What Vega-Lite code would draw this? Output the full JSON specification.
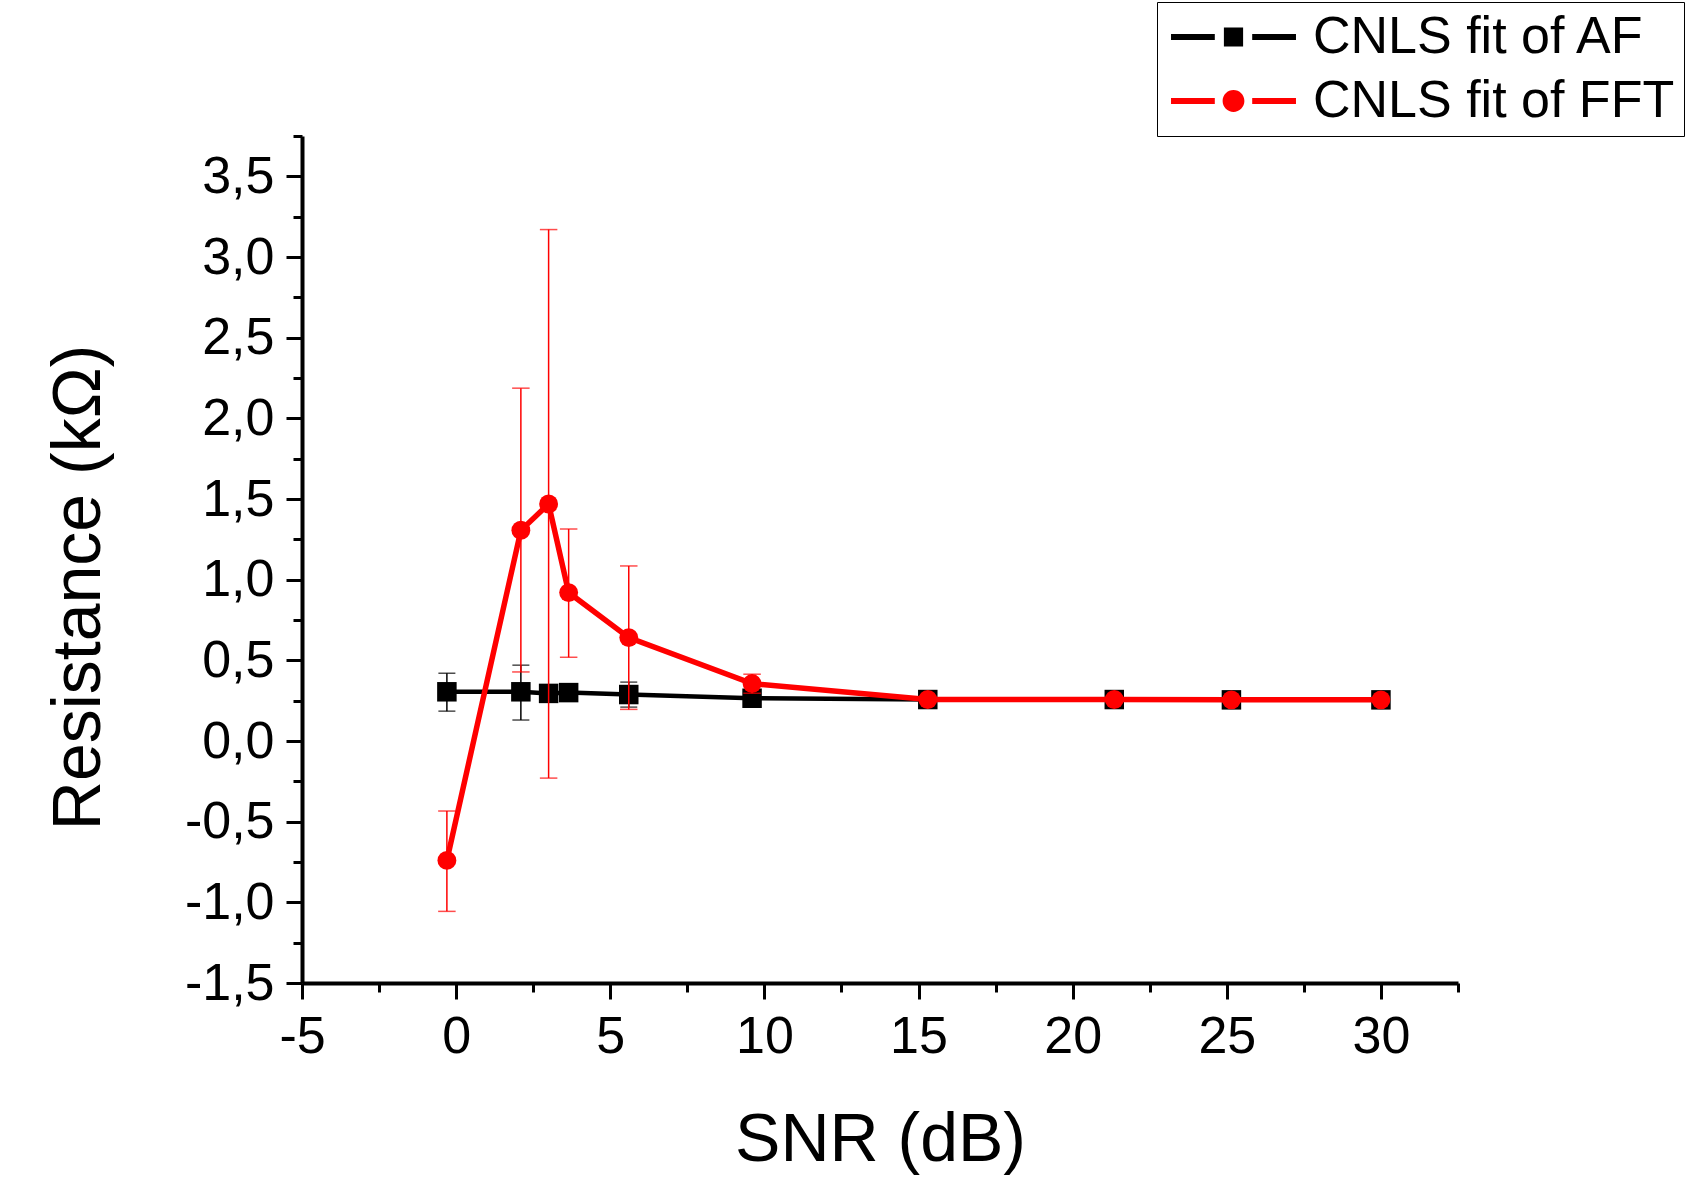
{
  "$schema": "https://vega.github.io/schema/vega-lite/v6.json",
  "width": 1156,
  "height": 847,
  "autosize": {"type": "none"},
  "padding": {"left": 302, "top": 136, "right": 237, "bottom": 196},
  "background": "white",
  "config": {
    "view": {"stroke": null},
    "font": "Liberation Sans",
    "axis": {
      "grid": false,
      "domainColor": "black",
      "domainWidth": 4,
      "tickColor": "black",
      "tickWidth": 3,
      "labelFont": "Liberation Sans",
      "labelFontSize": 52,
      "labelColor": "black",
      "labelOverlap": false,
      "labelFlush": false,
      "titleFont": "Liberation Sans",
      "titleFontSize": 68,
      "titleFontWeight": "normal",
      "titleColor": "black"
    }
  },
  "datasets": {
    "fits": [
      {"series": "CNLS fit of AF", "snr": -0.3, "r": 0.305, "lo": 0.185, "hi": 0.42},
      {"series": "CNLS fit of AF", "snr": 2.1, "r": 0.305, "lo": 0.13, "hi": 0.47},
      {"series": "CNLS fit of AF", "snr": 3.0, "r": 0.295, "lo": 0.29, "hi": 0.3},
      {"series": "CNLS fit of AF", "snr": 3.65, "r": 0.3, "lo": 0.295, "hi": 0.305},
      {"series": "CNLS fit of AF", "snr": 5.6, "r": 0.288, "lo": 0.21, "hi": 0.365},
      {"series": "CNLS fit of AF", "snr": 9.6, "r": 0.265, "lo": 0.255, "hi": 0.275},
      {"series": "CNLS fit of AF", "snr": 15.3, "r": 0.257, "lo": 0.25, "hi": 0.265},
      {"series": "CNLS fit of AF", "snr": 21.35, "r": 0.257, "lo": 0.255, "hi": 0.26},
      {"series": "CNLS fit of AF", "snr": 25.15, "r": 0.255, "lo": 0.253, "hi": 0.257},
      {"series": "CNLS fit of AF", "snr": 30.0, "r": 0.255, "lo": 0.253, "hi": 0.257},
      {"series": "CNLS fit of FFT", "snr": -0.3, "r": -0.74, "lo": -1.056, "hi": -0.434},
      {"series": "CNLS fit of FFT", "snr": 2.1, "r": 1.306, "lo": 0.428, "hi": 2.187},
      {"series": "CNLS fit of FFT", "snr": 3.0, "r": 1.469, "lo": -0.23, "hi": 3.17},
      {"series": "CNLS fit of FFT", "snr": 3.65, "r": 0.92, "lo": 0.519, "hi": 1.314},
      {"series": "CNLS fit of FFT", "snr": 5.6, "r": 0.641, "lo": 0.196, "hi": 1.085},
      {"series": "CNLS fit of FFT", "snr": 9.6, "r": 0.356, "lo": 0.296, "hi": 0.414},
      {"series": "CNLS fit of FFT", "snr": 15.3, "r": 0.257, "lo": 0.25, "hi": 0.265},
      {"series": "CNLS fit of FFT", "snr": 21.35, "r": 0.257, "lo": 0.255, "hi": 0.26},
      {"series": "CNLS fit of FFT", "snr": 25.15, "r": 0.255, "lo": 0.253, "hi": 0.257},
      {"series": "CNLS fit of FFT", "snr": 30.0, "r": 0.255, "lo": 0.253, "hi": 0.257}
    ]
  },
  "data": {"name": "fits"},
  "encoding": {
    "x": {
      "field": "snr",
      "type": "quantitative",
      "title": "SNR (dB)",
      "scale": {"domain": [-5, 32.5], "nice": false, "zero": false},
      "axis": {
        "values": [-5, -2.5, 0, 2.5, 5, 7.5, 10, 12.5, 15, 17.5, 20, 22.5, 25, 27.5, 30, 32.5],
        "labelExpr": "datum.value % 5 === 0 ? '' + datum.value : ''",
        "tickSize": {"condition": {"test": "datum.value % 5 !== 0", "value": 9}, "value": 16},
        "labelPadding": 12,
        "titleY": 177,
        "titleBaseline": "alphabetic"
      }
    },
    "y": {
      "field": "r",
      "type": "quantitative",
      "title": "Resistance (kΩ)",
      "scale": {"domain": [-1.5, 3.75], "nice": false, "zero": false},
      "axis": {
        "values": [-1.5, -1.25, -1, -0.75, -0.5, -0.25, 0, 0.25, 0.5, 0.75, 1, 1.25, 1.5, 1.75, 2, 2.25, 2.5, 2.75, 3, 3.25, 3.5, 3.75],
        "labelExpr": "datum.value % 0.5 === 0 ? replace(replace(format(datum.value, '.1f'), '.', ','), '−', '-') : ''",
        "tickSize": {"condition": {"test": "datum.value % 0.5 !== 0", "value": 9}, "value": 16},
        "labelPadding": 12,
        "titleX": -203,
        "titleY": 451,
        "titleBaseline": "alphabetic"
      }
    }
  },
  "layer": [
    {
      "transform": [{"filter": "datum.series === 'CNLS fit of AF'"}],
      "mark": {"type": "rule", "color": "black", "strokeWidth": 1.5},
      "encoding": {
        "y": {"field": "lo", "type": "quantitative", "title": "Resistance (kΩ)"},
        "y2": {"field": "hi"}
      }
    },
    {
      "transform": [{"filter": "datum.series === 'CNLS fit of AF'"}],
      "mark": {"type": "tick", "orient": "horizontal", "color": "black", "size": 17, "thickness": 1.5},
      "encoding": {"y": {"field": "lo", "type": "quantitative", "title": "Resistance (kΩ)"}}
    },
    {
      "transform": [{"filter": "datum.series === 'CNLS fit of AF'"}],
      "mark": {"type": "tick", "orient": "horizontal", "color": "black", "size": 17, "thickness": 1.5},
      "encoding": {"y": {"field": "hi", "type": "quantitative", "title": "Resistance (kΩ)"}}
    },
    {
      "transform": [{"filter": "datum.series === 'CNLS fit of AF'"}],
      "mark": {"type": "line", "color": "black", "strokeWidth": 4.5},
      "encoding": {}
    },
    {
      "transform": [{"filter": "datum.series === 'CNLS fit of AF'"}],
      "mark": {"type": "point", "shape": "square", "filled": true, "color": "black", "size": 380, "opacity": 1},
      "encoding": {}
    },
    {
      "transform": [{"filter": "datum.series === 'CNLS fit of FFT'"}],
      "mark": {"type": "rule", "color": "#ff0000", "strokeWidth": 1.5},
      "encoding": {
        "y": {"field": "lo", "type": "quantitative", "title": "Resistance (kΩ)"},
        "y2": {"field": "hi"}
      }
    },
    {
      "transform": [{"filter": "datum.series === 'CNLS fit of FFT'"}],
      "mark": {"type": "tick", "orient": "horizontal", "color": "#ff0000", "size": 17.5, "thickness": 1.5},
      "encoding": {"y": {"field": "lo", "type": "quantitative", "title": "Resistance (kΩ)"}}
    },
    {
      "transform": [{"filter": "datum.series === 'CNLS fit of FFT'"}],
      "mark": {"type": "tick", "orient": "horizontal", "color": "#ff0000", "size": 17.5, "thickness": 1.5},
      "encoding": {"y": {"field": "hi", "type": "quantitative", "title": "Resistance (kΩ)"}}
    },
    {
      "transform": [{"filter": "datum.series === 'CNLS fit of FFT'"}],
      "mark": {"type": "line", "color": "#ff0000", "strokeWidth": 5.5},
      "encoding": {}
    },
    {
      "transform": [{"filter": "datum.series === 'CNLS fit of FFT'"}],
      "mark": {"type": "point", "shape": "circle", "filled": true, "color": "#ff0000", "size": 357, "opacity": 1},
      "encoding": {}
    },
    {
      "mark": {"type": "point", "filled": true, "opacity": 0},
      "encoding": {
        "color": {
          "field": "series",
          "type": "nominal",
          "scale": {"domain": ["CNLS fit of AF", "CNLS fit of FFT"], "range": ["black", "#ff0000"]},
          "legend": {
            "title": null, "orient": "none", "legendX": 855, "legendY": -134,
            "symbolSize": 484, "symbolStrokeWidth": 0, "symbolOpacity": 1, "symbolOffset": 41.5,
            "labelFont": "Liberation Sans", "labelFontSize": 52, "labelColor": "black",
            "labelOffset": 53.5, "labelLimit": 0, "rowPadding": 12, "padding": 9,
            "strokeColor": "black", "fillColor": "white"
          }
        },
        "shape": {
          "field": "series",
          "type": "nominal",
          "scale": {
            "domain": ["CNLS fit of AF", "CNLS fit of FFT"],
            "range": [
              "M-5.68,-0.273H-1.7V0.273H-5.68Z M-0.873,-0.873H0.873V0.873H-0.873Z M1.7,-0.273H5.68V0.273H1.7Z",
              "M-5.68,-0.273H-1.7V0.273H-5.68Z M0.99,0A0.99,0.99 0 1,1 -0.99,0A0.99,0.99 0 1,1 0.99,0Z M1.7,-0.273H5.68V0.273H1.7Z"
            ]
          },
          "legend": {
            "title": null, "orient": "none", "legendX": 855, "legendY": -134,
            "symbolSize": 484, "symbolStrokeWidth": 0, "symbolOpacity": 1, "symbolOffset": 41.5,
            "labelFont": "Liberation Sans", "labelFontSize": 52, "labelColor": "black",
            "labelOffset": 53.5, "labelLimit": 0, "rowPadding": 12, "padding": 9,
            "strokeColor": "black", "fillColor": "white"
          }
        }
      }
    }
  ]
}
